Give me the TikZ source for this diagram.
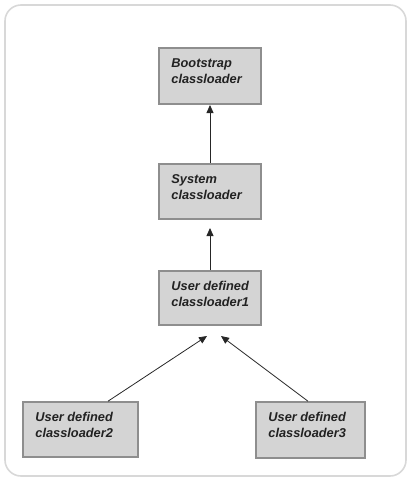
\documentclass[tikz,border=0pt]{standalone}
\usepackage{fontspec}
\setmainfont{Liberation Sans}
\usetikzlibrary{arrows.meta}
\definecolor{boxfill}{HTML}{D4D4D4}
\definecolor{boxline}{HTML}{8E8E8E}
\definecolor{frame}{HTML}{D8D8D8}
\definecolor{txt}{HTML}{222222}
\begin{document}
\begin{tikzpicture}[x=1pt,y=-1pt,
  cbox/.style={draw=boxline, fill=boxfill, line width=1.6pt, inner sep=0pt},
  lbl/.style={anchor=north west, inner sep=0pt, align=left, text=txt,
    font=\fontsize{12.8}{16}\selectfont\bfseries\itshape},
  arr/.style={-{Triangle[length=8pt,width=7pt]}, line width=0.8pt, draw=black!85}]
\useasboundingbox (0,0) rectangle (411,480);
\draw[frame, line width=1.6pt, rounded corners=16pt] (5,5) rectangle (406,476);
\node[cbox, minimum width=102pt, minimum height=56pt] (boot) at (210,76) {};
\node[cbox, minimum width=102pt, minimum height=55pt] (sys) at (210,191.5) {};
\node[cbox, minimum width=102pt, minimum height=54pt] (u1) at (210,298) {};
\node[cbox, minimum width=115pt, minimum height=55pt] (u2) at (80.5,429.5) {};
\node[cbox, minimum width=109pt, minimum height=56pt] (u3) at (310.5,430) {};
\node[lbl] (bootl) at ([xshift=13pt,yshift=-11pt]boot.north west) {Bootstrap\\classloader};
\node[lbl] (sysl) at ([xshift=13pt,yshift=-11pt]sys.north west) {System\\classloader};
\node[lbl] (u1l) at ([xshift=13pt,yshift=-11pt]u1.north west) {User defined\\classloader1};
\node[lbl] (u2l) at ([xshift=13pt,yshift=-11pt]u2.north west) {User defined\\classloader2};
\node[lbl] (u3l) at ([xshift=13pt,yshift=-11pt]u3.north west) {User defined\\classloader3};
\coordinate (t1) at (210,105);
\coordinate (t2) at (210,228);
\coordinate (t3) at (207,336);
\coordinate (t4) at (221,336);
\draw[arr] (sys.north) -- (t1);
\draw[arr] (u1.north) -- (t2);
\draw[arr] (u2.north -| 108,0) -- (t3);
\draw[arr] (u3.north -| 308,0) -- (t4);
\end{tikzpicture}
\end{document}
